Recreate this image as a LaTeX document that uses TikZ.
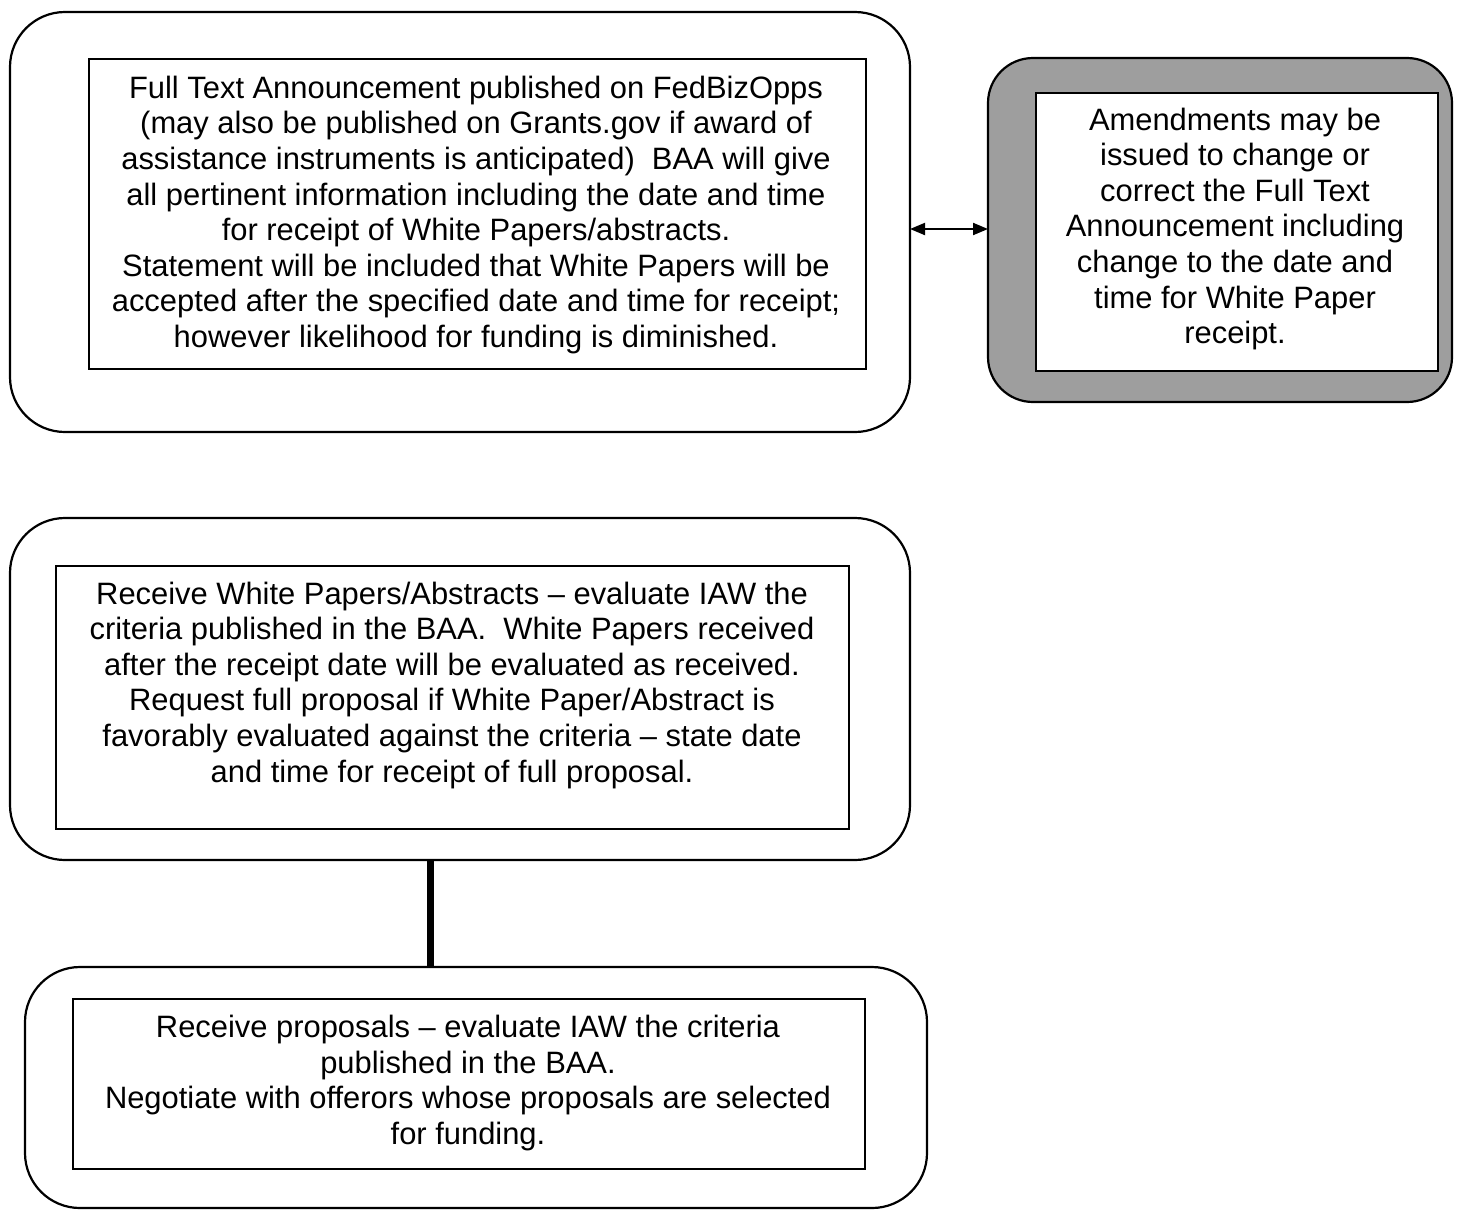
\documentclass[tikz,border=0pt]{standalone}
\usepackage{fontspec}
\setmainfont{Liberation Sans}
\usetikzlibrary{arrows.meta}
\begin{document}
\begin{tikzpicture}[x=1pt,y=-1pt,
  outerbox/.style={draw=black, line width=2.2pt, rounded corners=55pt},
  innerbox/.style={draw=black, line width=1.6pt},
  txt/.style={align=center, font=\fontsize{30.9}{35.6}\selectfont, inner sep=0pt},
  link/.style={line width=2pt, {Triangle[length=15pt,width=12pt]}-{Triangle[length=15pt,width=12pt]}},
  bar/.style={line width=7pt}
]
\useasboundingbox (0,0) rectangle (1458,1210);
% box 1
\draw[outerbox] (10,12) rectangle (910,432);
\node[innerbox, minimum width=777pt, minimum height=310pt, anchor=north west, inner sep=0pt] (b1) at (88,58) {};
\node[txt] (t1) at (476,215) {Full Text Announcement published on FedBizOpps\\(may also be published on Grants.gov if award of\\assistance instruments is anticipated)\ \ BAA will give\\all pertinent information including the date and time\\for receipt of White Papers/abstracts.\\Statement will be included that White Papers will be\\accepted after the specified date and time for receipt;\\however likelihood for funding is diminished.};
% box 2 (shaded)
\draw[line width=2.2pt, rounded corners=45pt, fill=black!38] (988,58) rectangle (1452,402);
\node[innerbox, fill=white, minimum width=402pt, minimum height=278pt, anchor=north west, inner sep=0pt] (b2) at (1035,92) {};
\node[txt] (t2) at (1235,229) {Amendments may be\\issued to change or\\correct the Full Text\\Announcement including\\change to the date and\\time for White Paper\\receipt.};
\coordinate (o1) at (910,229);
\coordinate (o2) at (988,229);
\draw[link] (o1) -- (o2);
% box 3
\draw[outerbox] (10,518) rectangle (910,860);
\node[innerbox, minimum width=793pt, minimum height=263pt, anchor=north west, inner sep=0pt] (b3) at (55,565) {};
\node[txt] (t3) at (452,685) {Receive White Papers/Abstracts -- evaluate IAW the\\criteria published in the BAA.\ \ White Papers received\\after the receipt date will be evaluated as received.\\Request full proposal if White Paper/Abstract is\\favorably evaluated against the criteria -- state date\\and time for receipt of full proposal.};
% box 4
\draw[outerbox] (25,967) rectangle (927,1208);
\node[innerbox, minimum width=792pt, minimum height=170pt, anchor=north west, inner sep=0pt] (b4) at (72,998) {};
\node[txt] (t4) at (468,1083) {Receive proposals -- evaluate IAW the criteria\\published in the BAA.\\Negotiate with offerors whose proposals are selected\\for funding.};
\coordinate (v1) at (430,860);
\coordinate (v2) at (430,967);
\draw[bar] (v1) -- (v2);
\end{tikzpicture}
\end{document}
